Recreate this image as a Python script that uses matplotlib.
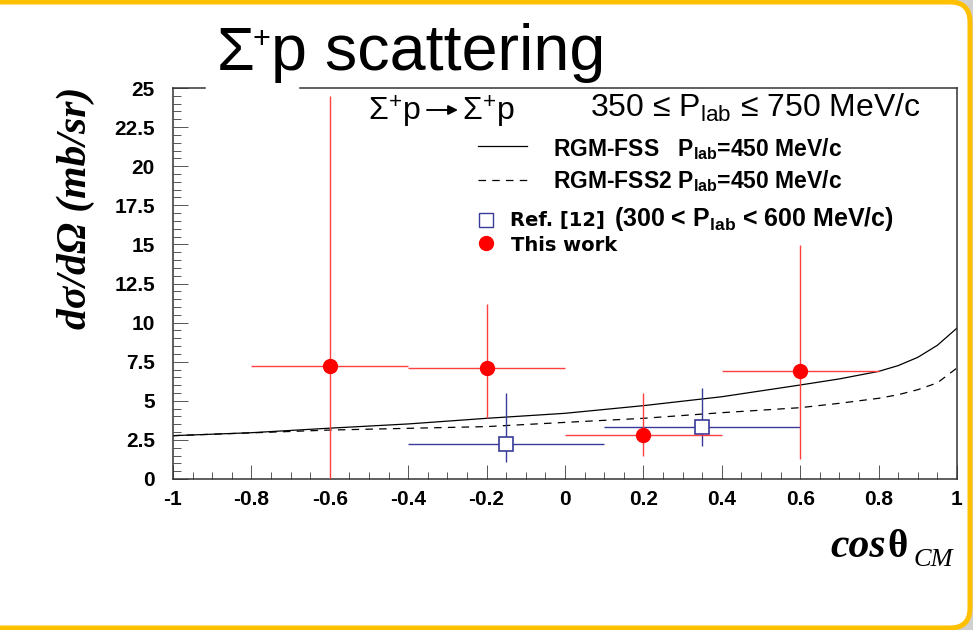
import matplotlib.pyplot as plt
import numpy as np
from matplotlib.lines import Line2D
from matplotlib.patches import FancyBboxPatch, FancyArrowPatch
from matplotlib.transforms import IdentityTransform
from matplotlib.ticker import MultipleLocator

# This work (red circles)
this_x = np.array([-0.6, -0.2, 0.2, 0.6])
this_y = np.array([7.25, 7.12, 2.79, 6.90])
this_xerr = np.array([0.2, 0.2, 0.2, 0.2])
this_err_lo = np.array([7.25, 3.20, 1.32, 5.60])
this_err_hi = np.array([17.25, 4.10, 2.69, 8.06])

# Ref. [12] (open squares)
ref_x = np.array([-0.15, 0.35])
ref_y = np.array([2.24, 3.30])
ref_xerr = np.array([0.25, 0.25])
ref_err_lo = np.array([1.14, 1.20])
ref_err_hi = np.array([3.24, 2.50])

# model curves, P_lab = 450 MeV/c
cos_th = np.array([-1.0, -0.8, -0.6, -0.4, -0.2, 0.0, 0.2, 0.4, 0.6, 0.7,
                   0.8, 0.85, 0.9, 0.95, 1.0])
fss = np.array([2.77, 2.96, 3.25, 3.52, 3.88, 4.20, 4.69, 5.26, 6.01, 6.40,
                6.88, 7.25, 7.78, 8.55, 9.65])
fss2 = np.array([2.77, 2.95, 3.13, 3.24, 3.35, 3.62, 3.88, 4.24, 4.56, 4.84,
                 5.16, 5.39, 5.71, 6.15, 7.10])

xticks = [-1, -0.8, -0.6, -0.4, -0.2, 0, 0.2, 0.4, 0.6, 0.8, 1]
xticklabels = ['-1', '-0.8', '-0.6', '-0.4', '-0.2', '0', '0.2', '0.4', '0.6', '0.8', '1']
yticks = [0, 2.5, 5, 7.5, 10, 12.5, 15, 17.5, 20, 22.5, 25]
yticklabels = ['0', '2.5', '5', '7.5', '10', '12.5', '15', '17.5', '20', '22.5', '25']

W, H = 973, 630
sans = ['Liberation Sans', 'DejaVu Sans']
serif = ['Liberation Serif', 'DejaVu Serif']
blue = '#3a3a9a'


def fx(x):
    return x / W


def fy(y):
    return 1 - y / H


fig = plt.figure(figsize=(W / 100, H / 100), dpi=100, facecolor='#d0d0d0')

# slide frame
frame = FancyBboxPatch((-40, 2), 1010, 626, boxstyle='round,pad=0,rounding_size=20',
                       transform=IdentityTransform(), facecolor='white',
                       edgecolor='#ffc000', linewidth=3.6, zorder=-5)
fig.patches.append(frame)

ax = fig.add_axes([fx(173), fy(479), fx(957) - fx(173), fy(88) - fy(479)])
ax.set_zorder(2)
ax.set_facecolor('none')
ax.set_xlim(-1, 1)
ax.set_ylim(0, 25)

ax.plot(cos_th, fss, color='black', lw=0.9)
ax.plot(cos_th, fss2, color='black', lw=0.9, dashes=(6, 5))

ax.errorbar(ref_x, ref_y, xerr=ref_xerr, yerr=[ref_err_lo, ref_err_hi], fmt='s',
            ms=10, mfc='white', mec=blue, mew=1.2, ecolor=blue,
            elinewidth=1, capsize=0, zorder=3)
ax.errorbar(this_x, this_y, xerr=this_xerr, yerr=[this_err_lo, this_err_hi], fmt='o',
            ms=10, mfc='red', mec='red', ecolor='#ff4040', elinewidth=1,
            capsize=0, zorder=4)

for side in ['left', 'right', 'bottom']:
    ax.spines[side].set_color('#333333')
    ax.spines[side].set_linewidth(1.1)
ax.spines['top'].set_visible(False)
# top frame line, broken where the title sits
for a, b in [(0, (205 - 173) / 784), ((300 - 173) / 784, 1)]:
    ax.add_line(Line2D([a, b], [1, 1], transform=ax.transAxes, color='#333333',
                       lw=1.1, clip_on=False))

ax.xaxis.set_minor_locator(MultipleLocator(0.05))
ax.yaxis.set_minor_locator(MultipleLocator(0.5))
ax.set_xticks(xticks)
ax.set_xticklabels(xticklabels)
ax.set_yticks(yticks)
ax.set_yticklabels(yticklabels)
ax.tick_params(axis='x', which='major', direction='in', length=10, width=0.7,
               color='#555555', pad=8)
ax.tick_params(axis='x', which='minor', direction='in', length=5, width=0.7,
               color='#555555')
ax.tick_params(axis='y', which='major', direction='in', length=11, width=0.7,
               color='#555555', pad=13)
ax.tick_params(axis='y', which='minor', direction='in', length=6, width=0.7,
               color='#555555')
for lab in ax.get_xticklabels() + ax.get_yticklabels():
    lab.set_family(sans)
    lab.set_fontweight('bold')
    lab.set_fontsize(15)

# title, with a small raised plus sign
fig.text(fx(217), fy(70), 'Σ', family=sans, fontsize=44, va='baseline')
fig.text(fx(253), fy(48), '+', family=sans, fontsize=22, va='baseline')
fig.text(fx(271), fy(70), 'p scattering', family=sans, fontsize=46.5, va='baseline')

# axis labels
fig.text(fx(76), fy(208), 'dσ/dΩ (mb/sr)', family=serif, fontsize=30,
         style='italic', fontweight='bold', rotation=90, ha='center', va='center')
fig.text(fx(830), fy(557), 'cos', family=serif, fontsize=30,
         style='italic', fontweight='bold', ha='left', va='baseline')
fig.text(fx(887), fy(557), 'θ', family=serif, fontsize=28,
         fontweight='bold', ha='left', va='baseline')
fig.text(fx(914), fy(566), 'CM', family=serif, fontsize=19,
         style='italic', ha='left', va='baseline')

# legend block
fig.text(fx(368), fy(121), 'Σ$\\mathregular{^{+}}$p', family=sans, fontsize=23,
         va='baseline')
fig.add_artist(FancyArrowPatch((fx(427), fy(110)), (fx(458), fy(110)),
                               transform=fig.transFigure, arrowstyle='-|>',
                               color='black', lw=1.4, mutation_scale=14,
                               shrinkA=0, shrinkB=0))
fig.text(fx(462), fy(121), 'Σ$\\mathregular{^{+}}$p', family=sans, fontsize=23,
         va='baseline')
fig.text(fx(590), fy(117), '350 ≤ P$\\mathregular{_{lab}}$ ≤ 750 MeV/c',
         family=sans, fontsize=23, va='baseline')

fig.add_artist(Line2D([fx(478), fx(527)], [fy(146), fy(146)], color='black', lw=0.9))
fig.add_artist(Line2D([fx(478), fx(527)], [fy(180), fy(180)], color='black', lw=0.9,
                      dashes=(6, 5)))
fig.text(fx(553), fy(156), 'RGM-FSS   P$\\mathregular{_{lab}}$=450 MeV/c', family=sans,
         fontweight='bold', fontsize=16.5, va='baseline')
fig.text(fx(553), fy(188), 'RGM-FSS2 P$\\mathregular{_{lab}}$=450 MeV/c', family=sans,
         fontweight='bold', fontsize=16.5, va='baseline')

fig.add_artist(Line2D([fx(486)], [fy(220)], marker='s', ms=10, mfc='white',
                      mec=blue, mew=1.0, ls='none'))
fig.add_artist(Line2D([fx(486)], [fy(243)], marker='o', ms=10, mfc='red',
                      mec='red', ls='none'))
fig.text(fx(510), fy(226), 'Ref. [12]', family=['DejaVu Sans'], fontweight='bold',
         fontsize=14, va='baseline')
fig.text(fx(614), fy(226), '(300 < P$\\mathregular{_{lab}}$ < 600 MeV/c)', family=sans,
         fontweight='bold', fontsize=18, va='baseline')
fig.text(fx(511), fy(251), 'This work', family=['DejaVu Sans'], fontweight='bold',
         fontsize=14, va='baseline')

fig.savefig('out.png', dpi=100, facecolor=fig.get_facecolor())
